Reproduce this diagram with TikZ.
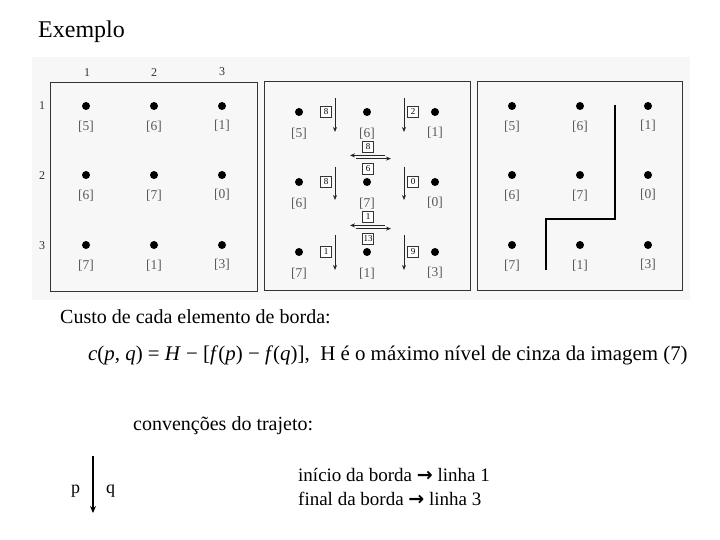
\documentclass[tikz,border=0pt]{standalone}
\usepackage{fontspec}
\setmainfont{Liberation Serif}
\newfontfamily\symfont{DejaVu Sans}
\usetikzlibrary{arrows.meta}
\begin{document}
\begin{tikzpicture}[x=1pt,y=-1pt,
 dot/.style={circle,fill=black,inner sep=0pt,minimum size=8pt},
 val/.style={font=\fontsize{13.5}{13.5}\selectfont,text=black!65,inner sep=0pt},
 axlab/.style={font=\fontsize{12}{12}\selectfont,text=black!80,inner sep=0pt},
 panel/.style={draw=black!80,line width=1pt},
 cost/.style={draw=black!80,line width=0.6pt,font=\fontsize{9}{9}\selectfont,inner sep=1pt,minimum width=11pt,minimum height=11pt,fill=white},
 varrow/.style={draw=black!85,line width=0.9pt,-{Stealth[length=5pt,width=4pt]}},
 harrow/.style={draw=black!85,line width=0.9pt,-{Stealth[length=5pt,width=4pt]}},
 path/.style={draw=black,line width=1.6pt},
 txt/.style={inner sep=0pt,anchor=base west},
]
\useasboundingbox (0,0) rectangle (720,540);
\fill[black!3] (32,57) rectangle (690,300);

\node[txt,font=\fontsize{24}{24}\selectfont] (title) at (38,38) {Exemplo};

% panels
\draw[panel] (50,83) rectangle (257,291);
\draw[panel] (264,82) rectangle (470,290);
\draw[panel] (477,82) rectangle (682,290);

% axis labels
\node[axlab] (c1) at (87,73) {1};
\node[axlab] (c2) at (154,73) {2};
\node[axlab] (c3) at (222,72) {3};
\node[axlab] (r1) at (42,106) {1};
\node[axlab] (r2) at (42,176) {2};
\node[axlab] (r3) at (42,246) {3};

% panel 1
\foreach \r/\y/\va/\vb/\vc in {1/106/5/6/1, 2/175/6/7/0, 3/245/7/1/3}{
  \node[dot] (a\r1) at (86,\y) {};
  \node[dot] (a\r2) at (154,\y) {};
  \node[dot] (a\r3) at (222,\y) {};
  \node[val] (al\r1) at (86,\y+21) {[\va]};
  \node[val] (al\r2) at (154,\y+21) {[\vb]};
  \node[val] (al\r3) at (222,\y+20) {[\vc]};
}
% panel 2
\foreach \r/\y/\va/\vb/\vc in {1/112/5/6/1, 2/182/6/7/0, 3/252/7/1/3}{
  \node[dot] (b\r1) at (299,\y) {};
  \node[dot] (b\r2) at (367,\y) {};
  \node[dot] (b\r3) at (435,\y) {};
  \node[val] (bl\r1) at (299,\y+22) {[\va]};
  \node[val] (bl\r2) at (367,\y+22) {[\vb]};
  \node[val] (bl\r3) at (435,\y+21) {[\vc]};
}
% panel 3
\foreach \r/\y/\va/\vb/\vc in {1/106/5/6/1, 2/175/6/7/0, 3/245/7/1/3}{
  \node[dot] (d\r1) at (512,\y) {};
  \node[dot] (d\r2) at (580,\y) {};
  \node[dot] (d\r3) at (648,\y) {};
  \node[val] (dl\r1) at (512,\y+21) {[\va]};
  \node[val] (dl\r2) at (580,\y+21) {[\vb]};
  \node[val] (dl\r3) at (648,\y+20) {[\vc]};
}

% vertical cost arrows in panel 2
\foreach \r/\ya/\yb/\yc/\ca/\cb in {1/98/132/112/8/2, 2/167/200/182/8/0, 3/235/270/252/1/9}{
  \coordinate (vs\r a) at (335,\ya);
  \coordinate (ve\r a) at (335,\yb);
  \coordinate (vs\r b) at (404,\ya);
  \coordinate (ve\r b) at (404,\yb);
  \draw[varrow] (vs\r a) -- (ve\r a);
  \draw[varrow] (vs\r b) -- (ve\r b);
  \node[cost] (ka\r) at (326,\yc) {\ca};
  \node[cost] (kb\r) at (413,\yc) {\cb};
}
% horizontal cost arrows
\foreach \i/\y/\ct/\cb in {1/157/8/6, 2/227/1/13}{
  \coordinate (hl\i a) at (385,\y-1.6);
  \coordinate (hl\i b) at (350,\y-1.6);
  \coordinate (hr\i a) at (356,\y+1.6);
  \coordinate (hr\i b) at (391,\y+1.6);
  \draw[harrow] (hl\i a) -- (hl\i b);
  \draw[harrow] (hr\i a) -- (hr\i b);
  \node[cost] (kt\i) at (368,\y-10) {\ct};
  \node[cost] (kd\i) at (368,\y+12) {\cb};
}

% border path in panel 3
\coordinate (p0) at (615,105);
\coordinate (p1) at (615,219);
\coordinate (p2) at (546,219);
\coordinate (p3) at (546,270);
\draw[path] (p0) -- (p1) -- (p2) -- (p3);

% texts
\node[txt,font=\fontsize{20}{20}\selectfont] (custo) at (60,323) {Custo de cada elemento de borda:};
\node[txt,font=\fontsize{20.9}{21}\selectfont] (formula) at (88,360) {\textit{c}(\textit{p}, \textit{q}) = \textit{H} − [\textit{f}(\textit{p}) − \textit{f}(\textit{q})],\ \ H é o máximo nível de cinza da imagem (7)};
\node[txt,font=\fontsize{20}{20}\selectfont] (conv) at (133,430) {convenções do trajeto:};

\node[txt,font=\fontsize{18}{18}\selectfont] (p) at (71,493) {p};
\node[txt,font=\fontsize{18}{18}\selectfont] (q) at (106,493) {q};
\coordinate (qa) at (93,456);
\coordinate (qb) at (93,513);
\draw[draw=black,line width=1.6pt,-{Stealth[length=7pt,width=6pt]}] (qa) -- (qb);

\node[txt,font=\fontsize{19}{19}\selectfont] (l1) at (298,481) {início da borda {\symfont\bfseries →} linha 1};
\node[txt,font=\fontsize{19}{19}\selectfont] (l2) at (298,505) {final da borda {\symfont\bfseries →} linha 3};
\end{tikzpicture}
\end{document}
